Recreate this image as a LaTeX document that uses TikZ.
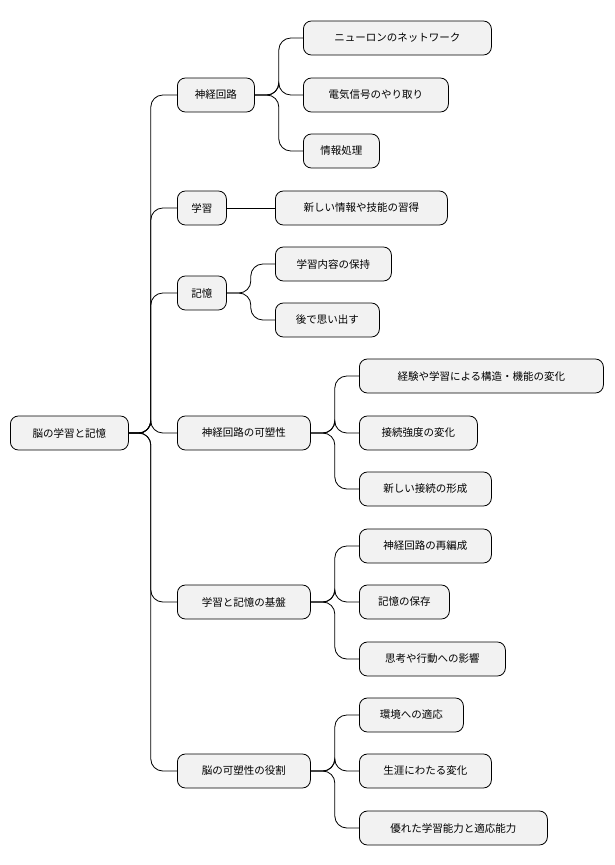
\documentclass[tikz,border=0pt]{standalone}
\usepackage{fontspec}
\setmainfont{Noto Sans CJK JP}
\begin{document}
\begin{tikzpicture}[x=1pt,y=-1pt,
  box/.style={draw=black,line width=0.8pt,fill=gray!10,rounded corners=8pt,minimum height=34pt,inner xsep=0pt,anchor=west,font=\fontsize{10.5pt}{12pt}\selectfont},
  con/.style={draw=black,line width=0.8pt,rounded corners=12pt}]
\useasboundingbox (0,0) rectangle (614,865);
\newcommand{\mmnode}[5]{\node[box,minimum width={#3-#2}] (#1) at (#2,#4) {#5};}
\mmnode{r}{10}{128}{433}{脳の学習と記憶}
\mmnode{a}{177}{254}{95}{神経回路}
\mmnode{b}{177}{226}{208}{学習}
\mmnode{c}{177}{226}{293}{記憶}
\mmnode{d}{177}{310}{433}{神経回路の可塑性}
\mmnode{e}{177}{310}{602}{学習と記憶の基盤}
\mmnode{f}{177}{310}{771}{脳の可塑性の役割}
\mmnode{a1}{303}{491}{38}{ニューロンのネットワーク}
\mmnode{a2}{303}{448}{95}{電気信号のやり取り}
\mmnode{a3}{303}{379}{151}{情報処理}
\mmnode{b1}{275}{447}{208}{新しい情報や技能の習得}
\mmnode{c1}{275}{391}{264}{学習内容の保持}
\mmnode{c2}{275}{379}{320}{後で思い出す}
\mmnode{d1}{359}{603}{376}{経験や学習による構造・機能の変化}
\mmnode{d2}{359}{477}{433}{接続強度の変化}
\mmnode{d3}{359}{491}{489}{新しい接続の形成}
\mmnode{e1}{359}{491}{546}{神経回路の再編成}
\mmnode{e2}{359}{449}{602}{記憶の保存}
\mmnode{e3}{359}{505}{659}{思考や行動への影響}
\mmnode{f1}{359}{463}{715}{環境への適応}
\mmnode{f2}{359}{491}{771}{生涯にわたる変化}
\mmnode{f3}{359}{547}{828}{優れた学習能力と適応能力}
\foreach \c in {a,b,c,d,e,f} {\draw[con] (r.east) -- ++(22,0) |- (\c.west);}
\foreach \c in {a1,a2,a3} {\draw[con] (a.east) -- ++(24,0) |- (\c.west);}
\draw[con] (b.east) -- (b1.west);
\foreach \c in {c1,c2} {\draw[con] (c.east) -- ++(24,0) |- (\c.west);}
\foreach \c in {d1,d2,d3} {\draw[con] (d.east) -- ++(24,0) |- (\c.west);}
\foreach \c in {e1,e2,e3} {\draw[con] (e.east) -- ++(24,0) |- (\c.west);}
\foreach \c in {f1,f2,f3} {\draw[con] (f.east) -- ++(24,0) |- (\c.west);}
\end{tikzpicture}
\end{document}
